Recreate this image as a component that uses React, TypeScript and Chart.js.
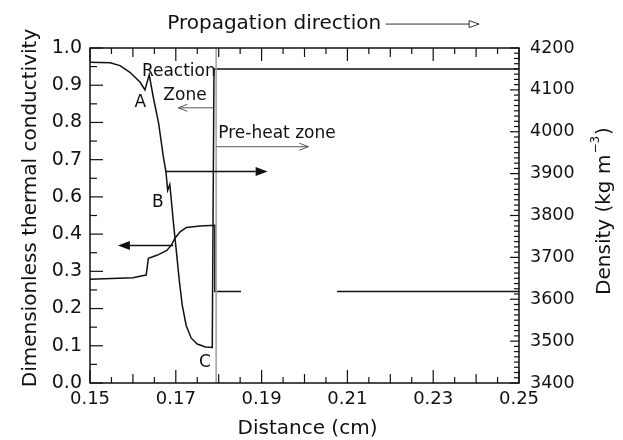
import React, { useEffect, useRef } from 'react';
import { Chart, registerables } from 'chart.js';

Chart.register(...registerables);

// ---- Data (x in cm) ----
// Dimensionless thermal conductivity (left axis)
const conductivityX = [0.1500, 0.1600, 0.1625, 0.1631, 0.1636, 0.1656, 0.1679, 0.1690, 0.1698, 0.1710, 0.1725, 0.1756, 0.1791, 0.1791, 0.1852, 0.1960, 0.2076, 0.2500];
const conductivityY = [0.279, 0.283, 0.289, 0.290, 0.335, 0.343, 0.356, 0.371, 0.389, 0.406, 0.418, 0.422, 0.424, 0.246, 0.246, null, 0.246, 0.246];

// Density, kg m^-3 (right axis)
const densityX = [0.1500, 0.1547, 0.1570, 0.1593, 0.1617, 0.1628, 0.1638, 0.1648, 0.1660, 0.1671, 0.1677, 0.1681, 0.1686, 0.1689, 0.1695, 0.1701, 0.1708, 0.1715, 0.1724, 0.1736, 0.1750, 0.1769, 0.1785, 0.1789, 0.2500];
const densityY = [4166, 4165, 4158, 4142, 4118, 4100, 4136, 4080, 4020, 3940, 3905, 3860, 3874, 3843, 3777, 3718, 3646, 3586, 3538, 3507, 3493, 3486, 3485, 4150, 4150];

// Combustion front position (thin grey line)
const frontX = [0.1794, 0.1794];
const frontY = [0, 0.9];

// Tick labels
const xTickValues = [0.15, 0.17, 0.19, 0.21, 0.23, 0.25];
const xTickLabels = ['0.15', '0.17', '0.19', '0.21', '0.23', '0.25'];
const leftTickValues = [0, 0.1, 0.2, 0.3, 0.4, 0.5, 0.6, 0.7, 0.8, 0.9];
const leftTickLabels = ['0.0', '0.1', '0.2', '0.3', '0.4', '0.6', '0.7', '0.8', '0.9', '1.0'];
const rightTickValues = [3400, 3500, 3600, 3700, 3800, 3900, 4000, 4100, 4200];
const rightTickLabels = ['3400', '3500', '3600', '3700', '3800', '3900', '4000', '4100', '4200'];

const FONT = '"DejaVu Sans", "Liberation Sans", Arial, sans-serif';
const INK = '#111111';

// Annotations (positions in data units: x in cm, y on left axis)
const notes = [
  { text: 'Propagation direction', x: 0.1680, y: 0.9643, size: 20, align: 'left' },
  { text: 'Reaction', x: 0.1621, y: 0.8357, size: 17, align: 'left' },
  { text: 'Zone', x: 0.1671, y: 0.7714, size: 17, align: 'left' },
  { text: 'Pre-heat zone', x: 0.1799, y: 0.6697, size: 17, align: 'left' },
  { text: 'A', x: 0.1617, y: 0.7536, size: 17, align: 'center' },
  { text: 'B', x: 0.1658, y: 0.4848, size: 17, align: 'center' },
  { text: 'C', x: 0.1768, y: 0.0560, size: 17, align: 'center' },
];

const arrows = [
  { x1: 0.2189, y1: 0.9643, x2: 0.2407, y2: 0.9643, color: '#333', width: 1, head: 'triangle', headLen: 10, headHalf: 3.5 },
  { x1: 0.1787, y1: 0.7393, x2: 0.1706, y2: 0.7393, color: '#555', width: 1, head: 'open', headLen: 9, headHalf: 3.5 },
  { x1: 0.1794, y1: 0.6348, x2: 0.2009, y2: 0.6348, color: '#555', width: 1, head: 'open', headLen: 9, headHalf: 3.5 },
  { x1: 0.1675, y1: 0.5679, x2: 0.1914, y2: 0.5679, color: INK, width: 1.5, head: 'filled', headLen: 12, headHalf: 4.5 },
  { x1: 0.1694, y1: 0.3696, x2: 0.1565, y2: 0.3696, color: INK, width: 1.5, head: 'filled', headLen: 12, headHalf: 4.5 },
];

function drawArrow(ctx: CanvasRenderingContext2D, x1: number, y1: number, x2: number, y2: number, s: any) {
  const a = Math.atan2(y2 - y1, x2 - x1);
  const cos = Math.cos(a), sin = Math.sin(a);
  const bx = x2 - cos * s.headLen, by = y2 - sin * s.headLen;
  const lx = bx - sin * s.headHalf, ly = by + cos * s.headHalf;
  const rx = bx + sin * s.headHalf, ry = by - cos * s.headHalf;
  ctx.save();
  ctx.strokeStyle = s.color;
  ctx.fillStyle = s.color;
  ctx.lineWidth = s.width;
  ctx.beginPath();
  ctx.moveTo(x1, y1);
  if (s.head === 'open') ctx.lineTo(x2, y2); else ctx.lineTo(bx, by);
  ctx.stroke();
  ctx.beginPath();
  if (s.head === 'filled') {
    ctx.moveTo(x2, y2); ctx.lineTo(lx, ly); ctx.lineTo(rx, ry); ctx.closePath(); ctx.fill();
  } else if (s.head === 'open') {
    ctx.moveTo(lx, ly); ctx.lineTo(x2, y2); ctx.lineTo(rx, ry); ctx.stroke();
  } else {
    ctx.moveTo(x2, y2); ctx.lineTo(lx, ly); ctx.lineTo(rx, ry); ctx.closePath(); ctx.stroke();
  }
  ctx.restore();
}

const overlay = {
  id: 'overlay',
  afterDraw(chart: any) {
    const ctx: CanvasRenderingContext2D = chart.ctx;
    const { left, right, top, bottom } = chart.chartArea;
    const sx = chart.scales.x, sy = chart.scales.y, sy1 = chart.scales.y1;
    ctx.save();
    ctx.strokeStyle = INK;
    ctx.lineWidth = 1.2;
    const seg = (a: number, b: number, c: number, d: number) => {
      ctx.beginPath(); ctx.moveTo(a, b); ctx.lineTo(c, d); ctx.stroke();
    };
    // x ticks (bottom & top, inward)
    for (let k = 0; k <= 20; k++) {
      const v = 0.15 + k * 0.005;
      const len = k % 4 === 0 ? 13 : k % 2 === 0 ? 9 : 6;
      const px = sx.getPixelForValue(v);
      seg(px, bottom, px, bottom - len);
      seg(px, top, px, top + len);
    }
    // left ticks
    for (let k = 0; k <= 18; k++) {
      const py = sy.getPixelForValue(k * 0.05);
      seg(left, py, left + (k % 2 === 0 ? 13 : 7), py);
    }
    // right ticks
    for (let k = 0; k <= 64; k++) {
      const py = sy1.getPixelForValue(3400 + k * 12.5);
      seg(right, py, right - (k % 8 === 0 ? 9 : 5), py);
    }
    // frame
    ctx.lineWidth = 1.5;
    ctx.strokeRect(left, top, right - left, bottom - top);

    // annotations
    ctx.fillStyle = INK;
    ctx.textBaseline = 'middle';
    for (const n of notes) {
      ctx.font = `${n.size}px ${FONT}`;
      ctx.textAlign = n.align as CanvasTextAlign;
      ctx.fillText(n.text, sx.getPixelForValue(n.x), sy.getPixelForValue(n.y));
    }
    for (const a of arrows) {
      drawArrow(ctx, sx.getPixelForValue(a.x1), sy.getPixelForValue(a.y1), sx.getPixelForValue(a.x2), sy.getPixelForValue(a.y2), a);
    }

    // axis titles
    ctx.fillStyle = INK;
    ctx.font = `20px ${FONT}`;
    ctx.textAlign = 'center';
    ctx.textBaseline = 'middle';
    ctx.fillText('Distance (cm)', (left + right) / 2 + 3, 429);

    ctx.save();
    ctx.translate(35.5, 208);
    ctx.rotate(-Math.PI / 2);
    ctx.textBaseline = 'alphabetic';
    ctx.fillText('Dimensionless thermal conductivity', 0, 0);
    ctx.restore();

    ctx.save();
    ctx.translate(610, 211);
    ctx.rotate(-Math.PI / 2);
    ctx.textBaseline = 'alphabetic';
    ctx.textAlign = 'left';
    const main = 'Density (kg m';
    const sup = '\u22123';
    const close = ')';
    ctx.font = `20px ${FONT}`;
    const w1 = ctx.measureText(main).width;
    const w3 = ctx.measureText(close).width;
    ctx.font = `12px ${FONT}`;
    const w2 = ctx.measureText(sup).width;
    let x0 = -(w1 + w2 + w3 + 2) / 2;
    ctx.font = `20px ${FONT}`;
    ctx.fillText(main, x0, 0);
    x0 += w1 + 1;
    ctx.font = `12px ${FONT}`;
    ctx.fillText(sup, x0, -11);
    x0 += w2 + 1;
    ctx.font = `20px ${FONT}`;
    ctx.fillText(close, x0, 0);
    ctx.restore();

    ctx.restore();
  },
};

const zip = (xs: number[], ys: (number | null)[]) => xs.map((x, i) => ({ x, y: ys[i] }));

export default function App() {
  const ref = useRef<HTMLCanvasElement>(null);
  useEffect(() => {
    const canvas = ref.current;
    if (!canvas) return;
    const chart = new Chart(canvas, {
      type: 'line',
      data: {
        datasets: [
          { label: 'Front', data: zip(frontX, frontY), yAxisID: 'y', borderColor: '#a0a0a0', borderWidth: 1.5, pointRadius: 0 },
          { label: 'Dimensionless thermal conductivity', data: zip(conductivityX, conductivityY), yAxisID: 'y', borderColor: INK, borderWidth: 1.5, pointRadius: 0, tension: 0, spanGaps: false },
          { label: 'Density', data: zip(densityX, densityY), yAxisID: 'y1', borderColor: INK, borderWidth: 1.5, pointRadius: 0, tension: 0 },
        ],
      } as any,
      options: {
        responsive: false,
        animation: false,
        layout: { padding: { top: 48, left: 0, right: 0, bottom: 0 } },
        plugins: { legend: { display: false }, tooltip: { enabled: false } },
        scales: {
          x: {
            type: 'linear', position: 'bottom', min: 0.15, max: 0.25,
            afterBuildTicks: (s: any) => { s.ticks = xTickValues.map((v) => ({ value: v })); },
            afterFit: (s: any) => { s.height = 57; },
            grid: { display: false, drawTicks: false }, border: { display: false },
            ticks: { autoSkip: false, maxRotation: 0, padding: 6, color: INK, font: { family: FONT, size: 18 }, callback: (_v: any, i: number) => xTickLabels[i] },
          },
          y: {
            type: 'linear', position: 'left', min: 0, max: 0.9,
            afterBuildTicks: (s: any) => { s.ticks = leftTickValues.map((v) => ({ value: v })); },
            afterFit: (s: any) => { s.width = 90; },
            grid: { display: false, drawTicks: false }, border: { display: false },
            ticks: { autoSkip: false, padding: 8, color: INK, font: { family: FONT, size: 19 }, callback: (_v: any, i: number) => leftTickLabels[i] },
          },
          y1: {
            type: 'linear', position: 'right', min: 3400, max: 4200,
            afterBuildTicks: (s: any) => { s.ticks = rightTickValues.map((v) => ({ value: v })); },
            afterFit: (s: any) => { s.width = 104; },
            grid: { display: false, drawTicks: false }, border: { display: false },
            ticks: { autoSkip: false, padding: 11, color: INK, font: { family: FONT, size: 17.5 }, callback: (_v: any, i: number) => rightTickLabels[i] },
          },
        },
      } as any,
      plugins: [overlay],
    });
    return () => chart.destroy();
  }, []);
  return (
    <div style={{ position: 'absolute', left: 0, top: 0, width: 623, height: 440, background: '#fff' }}>
      <canvas ref={ref} width={623} height={440} style={{ display: 'block' }} />
    </div>
  );
}
